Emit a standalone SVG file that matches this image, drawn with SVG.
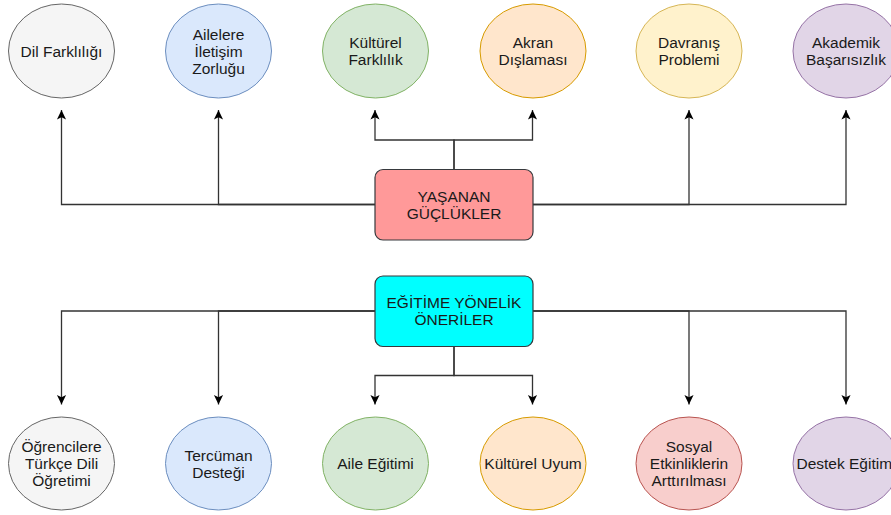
<svg xmlns="http://www.w3.org/2000/svg" width="891" height="515" viewBox="0 0 891 515">
<defs>
<style>
.t{font-family:"Liberation Sans",Arial,Helvetica,sans-serif;font-size:15.5px;fill:#1a1a1a;text-anchor:middle}
.c{fill:none;stroke:#333333;stroke-width:1.3}
.box{stroke:#36393d;stroke-width:1.2}
</style>
<marker id="ah" markerUnits="userSpaceOnUse" markerWidth="12" markerHeight="12" viewBox="0 0 10 10" refX="9" refY="5" orient="auto">
<path d="M1,1.2 L9,5 L1,8.8 L3,5 z" fill="#000"/>
</marker>
</defs>
<g id="connectors" class="c" marker-end="url(#ah)">
<path d="M375,204.5 H61.5 V110"/>
<path d="M375,204.5 H218.5 V110"/>
<path d="M533,204.5 H846 V110"/>
<path d="M533,204.5 H689 V110"/>
<path d="M454,169 V140 H375 V110"/>
<path d="M454,169 V140 H532.5 V110"/>
<path d="M375,311 H61.5 V404.5"/>
<path d="M375,311 H218.5 V404.5"/>
<path d="M533,311 H689 V404.5"/>
<path d="M533,311 H846 V404.5"/>
<path d="M454,347 V375.5 H375 V404.5"/>
<path d="M454,347 V375.5 H532.5 V404.5"/>
</g>
<g id="yasanan">
<rect class="box" x="375" y="169.5" width="158" height="70.5" rx="8" fill="#ff9999"/>
<text class="t" x="454" y="201.5">YAŞANAN</text>
<text class="t" x="454" y="218.5">GÜÇLÜKLER</text>
</g>
<g id="oneriler">
<rect class="box" x="375" y="276" width="158" height="70.5" rx="8" fill="#00ffff"/>
<text class="t" x="454" y="308">EĞİTİME YÖNELİK</text>
<text class="t" x="454" y="325">ÖNERİLER</text>
</g>
<g id="dil">
<ellipse cx="61.5" cy="51" rx="53" ry="47" fill="#f5f5f5" stroke="#666666"/>
<text class="t" x="61.5" y="56.5">Dil Farklılığı</text>
</g>
<g id="aile-iletisim">
<ellipse cx="218.5" cy="51" rx="53" ry="47" fill="#dae8fc" stroke="#6c8ebf"/>
<text class="t" x="218.5" y="39.5">Ailelere</text>
<text class="t" x="218.5" y="56.5">İletişim</text>
<text class="t" x="218.5" y="73.5">Zorluğu</text>
</g>
<g id="kulturel-farklilik">
<ellipse cx="375.5" cy="51" rx="53" ry="47" fill="#d5e8d4" stroke="#82b366"/>
<text class="t" x="375.5" y="48">Kültürel</text>
<text class="t" x="375.5" y="65">Farklılık</text>
</g>
<g id="akran">
<ellipse cx="533" cy="51" rx="53" ry="47" fill="#ffe6cc" stroke="#d79b00"/>
<text class="t" x="533" y="48">Akran</text>
<text class="t" x="533" y="65">Dışlaması</text>
</g>
<g id="davranis">
<ellipse cx="689" cy="51" rx="53" ry="47" fill="#fff2cc" stroke="#d6b656"/>
<text class="t" x="689" y="48">Davranış</text>
<text class="t" x="689" y="65">Problemi</text>
</g>
<g id="akademik">
<ellipse cx="846" cy="51" rx="53" ry="47" fill="#e1d5e7" stroke="#9673a6"/>
<text class="t" x="846" y="48">Akademik</text>
<text class="t" x="846" y="65">Başarısızlık</text>
</g>
<g id="turkce">
<ellipse cx="61.5" cy="463.5" rx="53" ry="46.5" fill="#f5f5f5" stroke="#666666"/>
<text class="t" x="61.5" y="452">Öğrencilere</text>
<text class="t" x="61.5" y="469">Türkçe Dili</text>
<text class="t" x="61.5" y="486">Öğretimi</text>
</g>
<g id="tercuman">
<ellipse cx="218.5" cy="463.5" rx="53" ry="46.5" fill="#dae8fc" stroke="#6c8ebf"/>
<text class="t" x="218.5" y="460.5">Tercüman</text>
<text class="t" x="218.5" y="477.5">Desteği</text>
</g>
<g id="aile-egitimi">
<ellipse cx="375.5" cy="463.5" rx="53" ry="46.5" fill="#d5e8d4" stroke="#82b366"/>
<text class="t" x="375.5" y="469">Aile Eğitimi</text>
</g>
<g id="kulturel-uyum">
<ellipse cx="533" cy="463.5" rx="53" ry="46.5" fill="#ffe6cc" stroke="#d79b00"/>
<text class="t" x="533" y="469">Kültürel Uyum</text>
</g>
<g id="sosyal">
<ellipse cx="689" cy="463.5" rx="53" ry="46.5" fill="#f8cecc" stroke="#b85450"/>
<text class="t" x="689" y="452">Sosyal</text>
<text class="t" x="689" y="469">Etkinliklerin</text>
<text class="t" x="689" y="486">Arttırılması</text>
</g>
<g id="destek">
<ellipse cx="846" cy="463.5" rx="53" ry="46.5" fill="#e1d5e7" stroke="#9673a6"/>
<text class="t" x="846" y="469">Destek Eğitimi</text>
</g>
</svg>
